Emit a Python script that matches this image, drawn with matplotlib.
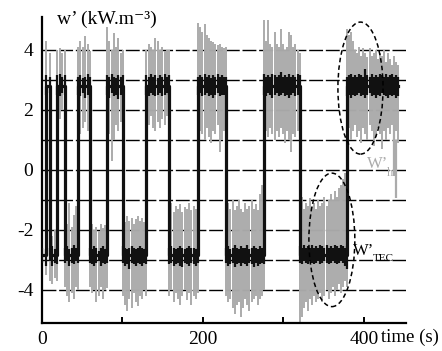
import numpy as np
import matplotlib
matplotlib.use("Agg")
import matplotlib.pyplot as plt
from matplotlib.patches import Ellipse

plt.rcParams['font.family'] = ['Liberation Serif', 'DejaVu Serif']

# switching instants (s) and TEC level of each segment (kW.m-3)
seg_start = [0, 5, 10, 19, 29, 45, 60, 81, 101, 130, 158, 194, 229, 276, 320, 379]
seg_end = seg_start[1:] + [442]
tec_level = [-2.85, 2.8, -2.85, 2.8, -2.85, 2.8, -2.85, 2.8,
             -2.85, 2.8, -2.85, 2.8, -2.85, 2.8, -2.85, 2.8]

# w'_h envelope, sampled through each segment
gray_top = [
    [-1.6, -2.0],
    [4.3, 3.9],
    [-2.1, -2.2, -2.0, -2.3],
    [4.0, 4.05, 3.9, 4.0],
    [-2.0, -1.8, -1.1, -1.9, -1.5, -1.2, -2.0],
    [4.1, 4.3, 4.1, 4.45, 4.2, 3.95],
    [-1.9, -1.8, -2.0, -1.9, -2.05, -1.8, -1.95, -1.85, -2.0],
    [4.78, 4.3, 4.0, 4.55, 4.1, 4.4, 3.9, 4.0],
    [-1.6, -1.75, -1.55, -1.7, -1.6, -1.8, -1.65, -1.55, -1.7, -1.6, -1.75, -1.6],
    [4.0, 4.2, 4.1, 4.0, 4.4, 4.3, 4.0, 4.1, 3.95, 4.0, 4.0],
    [-1.3, -1.1, -1.4, -1.2, -1.3, -1.15, -1.4, -1.25, -1.3, -1.1, -1.35, -1.2, -1.3, -1.4],
    [4.9, 4.75, 4.6, 4.85, 4.5, 4.4, 4.3, 4.25, 4.2, 4.15, 4.2, 4.1, 4.05, 4.1],
    [-1.4, -1.1, -1.3, -1.0, -1.35, -1.2, -1.0, -1.3, -1.4, -1.1, -1.3, -1.2, -1.0,
     -1.3, -1.15, -1.35, -0.8, -0.5, -1.2],
    [5.0, 4.3, 5.0, 4.2, 4.1, 4.6, 4.2, 4.1, 4.7, 4.2, 4.0, 4.1, 4.6, 4.5, 4.1, 4.2, 4.0, 3.9],
    [-1.0, -0.9, -1.3, -1.1, -1.2, -0.95, -1.2, -1.1, -1.3, -1.0, -1.2, -1.1, -0.9, -1.2,
     -1.0, -0.8, -1.0, -0.7, -0.9, -0.6, -0.5, -0.3, -0.1, -0.4],
    [4.7, 4.5, 4.6, 4.3, 4.0, 3.9, 4.1, 3.8, 4.05, 3.9, 3.75, 4.05, 3.8, 3.9, 4.0, 3.7,
     3.9, 3.8, 4.0, 3.6, 3.9, 3.7, 3.5, 3.8, 3.6, 3.5],
]
gray_bot = [
    [-3.6, -3.5],
    [1.9, 2.2],
    [-3.7, -3.8, -3.6, -3.7],
    [1.8, 1.7, 2.0, 1.8],
    [-3.9, -4.2, -4.4, -4.1, -4.3, -3.9, -4.0],
    [1.5, 1.2, 1.4, 1.6, 1.3, 1.8],
    [-3.9, -4.1, -4.0, -4.4, -4.2, -3.9, -4.3, -4.0, -3.95],
    [1.5, 1.2, 0.3, 1.0, 1.5, 1.3, 1.6, 1.4],
    [-4.2, -4.5, -4.7, -4.3, -4.6, -4.1, -4.4, -4.55, -4.2, -4.3, -4.0, -4.2],
    [1.7, 1.5, 1.8, 1.4, 1.3, 1.6, 1.4, 1.7, 1.5, 1.8, 1.9],
    [-4.2, -4.0, -4.4, -4.1, -4.3, -4.5, -4.2, -4.0, -4.35, -4.1, -4.5, -4.2, -4.3, -4.1],
    [1.5, 1.3, 1.2, 1.0, 1.4, 1.1, 0.9, 1.3, 1.2, 1.5, 0.6, 1.0, 1.3, 1.4],
    [-4.2, -4.4, -4.3, -4.6, -4.8, -4.5, -4.4, -4.9, -4.6, -4.3, -4.5, -4.7, -4.4, -4.3,
     -4.2, -4.5, -4.3, -4.2, -4.0],
    [1.5, 1.3, 1.1, 1.4, 1.2, 1.0, 1.3, 1.1, 1.4, 1.2, 0.9, 1.3, 1.0, 0.6, 1.2, 1.1, 1.3, 1.5],
    [-5.1, -4.9, -4.6, -4.4, -4.7, -4.3, -4.5, -4.2, -4.4, -4.3, -4.1, -4.4, -4.2, -4.0,
     -4.3, -4.1, -3.9, -4.2, -4.0, -3.8, -4.1, -3.9, -3.7, -3.9],
    [1.2, 1.4, 1.0, 1.3, 1.5, 1.1, 1.3, 0.9, 1.4, 1.2, 1.0, 1.5, 1.3, 0.8, 1.1, 1.4, 1.2,
     0.7, 1.3, 1.0, 1.4, 1.2, 1.5, 1.1, 1.3, 0.9],
]
# last drop of w'_h after the end of the record
tail_t = [437, 440]
tail_hi = [1.5, 1.0]
tail_lo = [-0.2, -0.95]

# w'_TEC band
tec_top = [
    [-2.6, -2.65],
    [3.15, 3.1],
    [-2.6, -2.55, -2.65, -2.6],
    [3.15, 3.2, 3.1, 3.15],
    [-2.6, -2.55, -2.65, -2.6, -2.5, -2.6, -2.65],
    [3.1, 3.15, 3.05, 3.1, 3.2, 3.1],
    [-2.6, -2.65, -2.55, -2.6, -2.7, -2.6, -2.55, -2.65, -2.6],
    [3.15, 3.1, 3.2, 3.1, 3.05, 3.15, 3.1, 3.15],
    [-2.55, -2.6, -2.65, -2.6, -2.55, -2.6, -2.65, -2.6, -2.55, -2.6, -2.65, -2.6],
    [3.15, 3.1, 3.2, 3.1, 3.15, 3.05, 3.15, 3.1, 3.2, 3.1, 3.15],
    [-2.6, -2.55, -2.6, -2.65, -2.6, -2.55, -2.6, -2.65, -2.6, -2.55, -2.6, -2.6, -2.65, -2.6],
    [3.1, 3.15, 3.1, 3.2, 3.1, 3.15, 3.05, 3.15, 3.1, 3.2, 3.1, 3.15, 3.1, 3.1],
    [-2.6, -2.55, -2.65, -2.6, -2.5, -2.6, -2.65, -2.55, -2.6, -2.6, -2.5, -2.65, -2.6,
     -2.55, -2.6, -2.65, -2.55, -2.6, -2.6],
    [3.2, 3.1, 3.15, 3.1, 3.2, 3.15, 3.1, 3.15, 3.25, 3.1, 3.15, 3.1, 3.2, 3.1, 3.15, 3.1, 3.2, 3.15],
    [-2.55, -2.6, -2.5, -2.6, -2.55, -2.6, -2.5, -2.6, -2.55, -2.6, -2.5, -2.55, -2.6, -2.5,
     -2.6, -2.55, -2.6, -2.5, -2.55, -2.6, -2.5, -2.55, -2.6, -2.55],
    [3.1, 3.15, 3.2, 3.1, 3.15, 3.1, 3.2, 3.15, 3.1, 3.35, 3.15, 3.1, 3.2, 3.1, 3.15, 3.1,
     3.2, 3.15, 3.1, 3.2, 3.1, 3.15, 3.2, 3.1, 3.15, 3.1],
]
tec_bot = [
    [-3.1, -3.2],
    [2.5, 2.55],
    [-3.05, -3.2, -3.1, -3.15],
    [2.5, 2.45, 2.55, 2.5],
    [-3.1, -3.05, -3.2, -3.1, -3.15, -3.05, -3.1],
    [2.5, 2.45, 2.55, 2.4, 2.5, 2.55],
    [-3.1, -3.15, -3.2, -3.1, -3.05, -3.2, -3.1, -3.15, -3.1],
    [2.5, 2.4, 2.55, 2.45, 2.5, 2.35, 2.5, 2.55],
    [-3.1, -3.2, -3.15, -3.3, -3.1, -3.15, -3.2, -3.1, -3.15, -3.2, -3.1, -3.15],
    [2.5, 2.45, 2.55, 2.5, 2.45, 2.5, 2.55, 2.45, 2.5, 2.55, 2.5],
    [-3.15, -3.1, -3.2, -3.15, -3.1, -3.2, -3.25, -3.1, -3.15, -3.2, -3.1, -3.15, -3.2, -3.1],
    [2.5, 2.55, 2.45, 2.5, 2.55, 2.45, 2.5, 2.4, 2.5, 2.55, 2.45, 2.5, 2.5, 2.55],
    [-3.1, -3.2, -3.15, -3.1, -3.25, -3.15, -3.1, -3.2, -3.1, -3.15, -3.2, -3.1, -3.15,
     -3.25, -3.1, -3.2, -3.15, -3.1, -3.15],
    [2.5, 2.45, 2.55, 2.5, 2.4, 2.5, 2.55, 2.45, 2.5, 2.55, 2.45, 2.5, 2.4, 2.5, 2.55, 2.45, 2.5, 2.5],
    [-3.1, -3.15, -3.05, -3.1, -3.15, -3.05, -3.1, -3.15, -3.1, -3.05, -3.15, -3.1, -3.05,
     -3.1, -3.15, -3.1, -3.05, -3.1, -3.15, -3.1, -3.05, -3.1, -3.2, -3.3],
    [2.45, 2.5, 2.4, 2.5, 2.45, 2.5, 2.55, 2.45, 2.5, 2.4, 2.5, 2.55, 2.45, 2.5, 2.4, 2.5,
     2.45, 2.55, 2.5, 2.45, 2.4, 2.5, 2.45, 2.5, 2.4, 2.45],
]

grid_y = [-4, -3, -2, -1, 0, 1, 2, 3, 4]

gray = '#ababab'
ink = '#111111'

fig = plt.figure(figsize=(4.42, 3.51), dpi=100)
ax = fig.add_axes([0.0943, 0.0798, 0.8243, 0.8718])

# horizontal reference lines
for gy in grid_y:
    ax.plot([0, 452], [gy, gy], color='black', lw=1.0, ls=(0, (10, 2)), zorder=1)

# w'_h (gray) and w'_TEC band (black), segment by segment
for i in range(len(seg_start)):
    t = np.linspace(seg_start[i], seg_end[i], len(gray_top[i]))
    ax.vlines(t, gray_bot[i], gray_top[i], color=gray, lw=1.4, zorder=2)
for i in range(len(seg_start)):
    t = np.linspace(seg_start[i], seg_end[i], len(tec_top[i]))
    ax.vlines(t, tec_bot[i], tec_top[i], color=ink, lw=1.6, zorder=3)
ax.vlines(tail_t, tail_lo, tail_hi, color=gray, lw=1.6, zorder=2)

# switching square wave
edges = seg_start + [seg_end[-1]]
ax.step(edges, tec_level + [tec_level[-1]], where='post', color=ink, lw=2.3, zorder=4)

# dashed ellipses
ax.add_patch(Ellipse((395.5, 2.73), 56, 4.4, fill=False, ls=(0, (3, 2)),
                     lw=1.1, ec='black', zorder=5))
ax.add_patch(Ellipse((360, -2.33), 57, 4.45, fill=False, ls=(0, (3, 2)),
                     lw=1.1, ec='black', zorder=5))

ax.text(403, 0.05, "W’", color=gray, fontsize=12, zorder=6)
ax.text(428, -0.2, "h", color=gray, fontsize=9, zorder=6)
ax.text(386, -2.85, "W’", color='black', fontsize=12, zorder=6)
ax.text(411, -3.05, "TEC", color='black', fontsize=8, zorder=6)

ax.set_xlim(0, 452)
ax.set_ylim(-5.1, 5.1)
for s in ['top', 'right']:
    ax.spines[s].set_visible(False)
ax.spines['left'].set_linewidth(1.6)
ax.spines['bottom'].set_linewidth(1.6)

ax.set_xticks([0, 100, 200, 300, 400])
ax.set_xticklabels(['0', '', '200', '', '400'])
ax.tick_params(axis='x', direction='in', length=4, width=1.4, labelsize=14, pad=6)
ax.set_yticks([-4, -2, 0, 2, 4])
ax.set_yticklabels(['-4', '-2', '0', '2', '4'])
ax.tick_params(axis='y', length=0, labelsize=14, pad=6)

fig.text(0.862, 0.038, "time (s)", fontsize=13.5, ha='left', va='center')
fig.text(0.128, 0.945, "w’ (kW.m⁻³)", fontsize=14, ha='left', va='center')

fig.savefig("out.png", dpi=100)
